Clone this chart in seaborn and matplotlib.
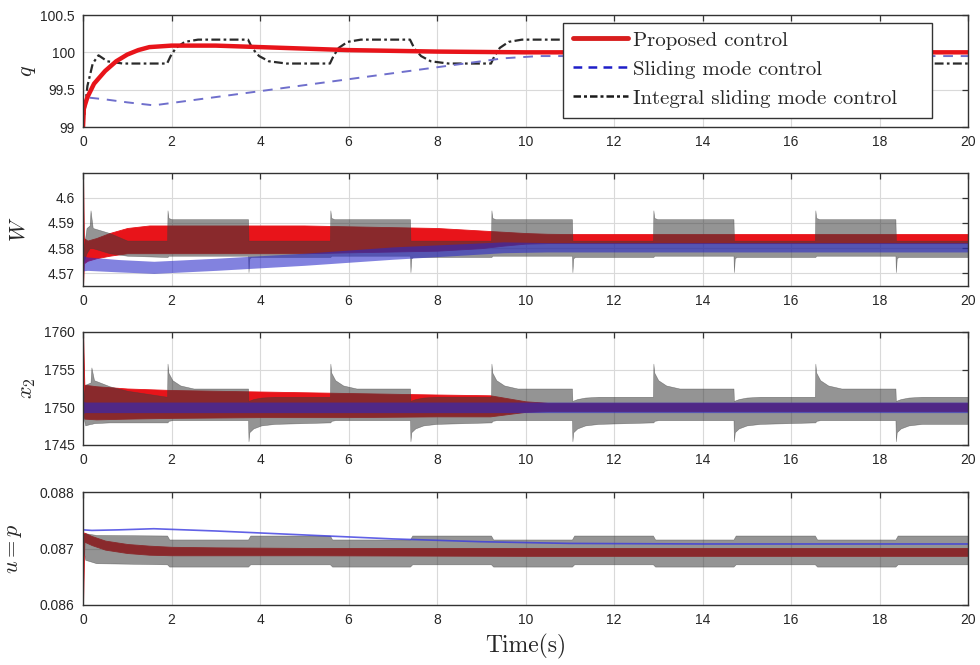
import matplotlib
matplotlib.use("Agg")
import matplotlib.pyplot as plt
from matplotlib.lines import Line2D
from matplotlib.patches import Rectangle
import seaborn as sns

# ---------------- data ----------------
# Panel 1 : q
t_q_prop = [0.00, 0.02, 0.10, 0.25, 0.50, 0.75, 1.00, 1.25, 1.50, 2.00, 3.00, 4.00,
            5.00, 6.00, 7.00, 8.00, 10.00, 20.00]
q_prop = [99.00, 99.25, 99.40, 99.58, 99.75, 99.88, 99.97, 100.03, 100.07, 100.09, 100.09,
          100.07, 100.05, 100.03, 100.02, 100.01, 100.00, 100.00]

t_q_smc = [0.00, 0.03, 0.50, 1.00, 1.60, 4.00, 6.00, 8.00, 9.50, 10.30, 20.00]
q_smc = [99.00, 99.40, 99.37, 99.33, 99.29, 99.48, 99.64, 99.80, 99.92, 99.95, 99.95]

t_q_ismc = [0.00, 0.10, 0.22, 0.35, 0.55, 0.90,
            1.90, 1.98, 2.10, 2.30, 2.60, 3.73, 3.83, 3.98, 4.20, 4.60,
            5.58, 5.66, 5.78, 5.98, 6.28, 7.39, 7.49, 7.64, 7.86, 8.26,
            9.22, 9.30, 9.42, 9.62, 9.92, 11.05, 11.15, 11.30, 11.52, 11.92,
            12.88, 12.96, 13.08, 13.28, 13.58, 14.70, 14.80, 14.95, 15.17, 15.57,
            16.54, 16.62, 16.74, 16.94, 17.24, 18.36, 18.46, 18.61, 18.83, 19.23, 20.00]
q_ismc = [99.00, 99.55, 99.85, 99.96, 99.88, 99.85,
          99.85, 99.95, 100.06, 100.14, 100.17, 100.17, 100.05, 99.95, 99.88, 99.85,
          99.85, 99.95, 100.06, 100.14, 100.17, 100.17, 100.05, 99.95, 99.88, 99.85,
          99.85, 99.95, 100.06, 100.14, 100.17, 100.17, 100.05, 99.95, 99.88, 99.85,
          99.85, 99.95, 100.06, 100.14, 100.17, 100.17, 100.05, 99.95, 99.88, 99.85,
          99.85, 99.95, 100.06, 100.14, 100.17, 100.17, 100.05, 99.95, 99.88, 99.85, 99.85]

# Panel 2 : W (envelopes of the chattering bands)
t_w_prop = [0.00, 0.02, 0.10, 0.30, 0.60, 1.00, 1.50, 2.00, 5.00, 8.00, 9.00, 9.50,
            10.00, 10.50, 11.00, 20.00]
w_prop_hi = [4.6100, 4.5840, 4.5830, 4.5840, 4.5860, 4.5880, 4.5890, 4.5890, 4.5890, 4.5880,
             4.5870, 4.5865, 4.5860, 4.5857, 4.5856, 4.5856]
w_prop_lo = [4.5650, 4.5740, 4.5750, 4.5760, 4.5770, 4.5780, 4.5780, 4.5780, 4.5780, 4.5790,
             4.5800, 4.5810, 4.5818, 4.5820, 4.5820, 4.5820]

t_w_smc = [0.00, 0.10, 0.80, 1.60, 3.00, 5.00, 7.00, 9.50, 10.50, 20.00]
w_smc_hi = [4.5770, 4.5765, 4.5755, 4.5748, 4.5760, 4.5780, 4.5805, 4.5825, 4.5822, 4.5822]
w_smc_lo = [4.5710, 4.5712, 4.5706, 4.5700, 4.5712, 4.5732, 4.5756, 4.5782, 4.5785, 4.5785]

t_w_ismc = [0.00, 0.08, 0.15, 0.17, 0.22, 0.60, 1.00,
            1.90, 1.91, 1.93, 2.00, 3.73, 3.74, 3.76, 3.80,
            5.58, 5.59, 5.61, 5.68, 7.39, 7.40, 7.42, 7.46,
            9.22, 9.23, 9.25, 9.32, 11.05, 11.06, 11.08, 11.12,
            12.88, 12.89, 12.91, 12.98, 14.70, 14.71, 14.73, 14.77,
            16.54, 16.55, 16.57, 16.64, 18.36, 18.37, 18.39, 18.43, 20.00]
w_ismc_hi = [4.5780, 4.5880, 4.5890, 4.5950, 4.5880, 4.5860, 4.5830,
             4.5830, 4.5950, 4.5920, 4.5915, 4.5915, 4.5830, 4.5830, 4.5830,
             4.5830, 4.5950, 4.5920, 4.5915, 4.5915, 4.5830, 4.5830, 4.5830,
             4.5830, 4.5950, 4.5920, 4.5915, 4.5915, 4.5830, 4.5830, 4.5830,
             4.5830, 4.5950, 4.5920, 4.5915, 4.5915, 4.5830, 4.5830, 4.5830,
             4.5830, 4.5950, 4.5920, 4.5915, 4.5915, 4.5830, 4.5830, 4.5830, 4.5830]
w_ismc_lo = [4.5740, 4.5780, 4.5800, 4.5800, 4.5800, 4.5780, 4.5770,
             4.5765, 4.5765, 4.5770, 4.5770, 4.5770, 4.5705, 4.5760, 4.5765,
             4.5765, 4.5765, 4.5770, 4.5770, 4.5770, 4.5705, 4.5760, 4.5765,
             4.5765, 4.5765, 4.5770, 4.5770, 4.5770, 4.5705, 4.5760, 4.5765,
             4.5765, 4.5765, 4.5770, 4.5770, 4.5770, 4.5705, 4.5760, 4.5765,
             4.5765, 4.5765, 4.5770, 4.5770, 4.5770, 4.5705, 4.5760, 4.5765, 4.5765]

# Panel 3 : x2
t_x_prop = [0.00, 0.03, 0.30, 1.00, 2.00, 4.00, 6.00, 8.00, 9.20, 9.60, 10.00, 10.50, 20.00]
x_prop_hi = [1760.0, 1753.0, 1752.8, 1752.5, 1752.3, 1752.1, 1751.9, 1751.7, 1751.6, 1751.2,
             1750.8, 1750.6, 1750.6]
x_prop_lo = [1750.0, 1748.5, 1748.4, 1748.5, 1748.6, 1748.7, 1748.7, 1748.8, 1748.8, 1749.1,
             1749.4, 1749.5, 1749.5]

t_x_smc = [0.00, 0.05, 20.00]
x_smc_hi = [1750.8, 1750.7, 1750.7]
x_smc_lo = [1749.2, 1749.3, 1749.3]

t_x_ismc = [0.00, 0.05, 0.17, 0.19, 0.25, 0.60, 1.00,
            1.90, 1.91, 1.93, 2.02, 2.20, 2.50, 3.73, 3.74, 3.76, 3.85, 4.03, 4.33,
            5.58, 5.59, 5.61, 5.70, 5.88, 6.18, 7.39, 7.40, 7.42, 7.51, 7.69, 7.99,
            9.22, 9.23, 9.25, 9.34, 9.52, 9.82, 11.05, 11.06, 11.08, 11.17, 11.35, 11.65,
            12.88, 12.89, 12.91, 13.00, 13.18, 13.48, 14.70, 14.71, 14.73, 14.82, 15.00, 15.30,
            16.54, 16.55, 16.57, 16.66, 16.84, 17.14, 18.36, 18.37, 18.39, 18.48, 18.66, 18.96,
            20.00]
x_ismc_hi = [1751.0, 1753.0, 1753.3, 1755.3, 1753.6, 1752.8, 1752.2,
             1751.4, 1755.8, 1754.6, 1753.6, 1752.9, 1752.5, 1752.5, 1750.8, 1750.9, 1751.1, 1751.3, 1751.4,
             1751.4, 1755.8, 1754.6, 1753.6, 1752.9, 1752.5, 1752.5, 1750.8, 1750.9, 1751.1, 1751.3, 1751.4,
             1751.4, 1755.8, 1754.6, 1753.6, 1752.9, 1752.5, 1752.5, 1750.8, 1750.9, 1751.1, 1751.3, 1751.4,
             1751.4, 1755.8, 1754.6, 1753.6, 1752.9, 1752.5, 1752.5, 1750.8, 1750.9, 1751.1, 1751.3, 1751.4,
             1751.4, 1755.8, 1754.6, 1753.6, 1752.9, 1752.5, 1752.5, 1750.8, 1750.9, 1751.1, 1751.3, 1751.4,
             1751.4]
x_ismc_lo = [1749.0, 1747.6, 1747.8, 1747.8, 1747.9, 1748.0, 1748.0,
             1748.0, 1748.0, 1748.2, 1748.3, 1748.3, 1748.3, 1748.3, 1745.5, 1746.7, 1747.2, 1747.6, 1747.8,
             1748.0, 1748.0, 1748.2, 1748.3, 1748.3, 1748.3, 1748.3, 1745.5, 1746.7, 1747.2, 1747.6, 1747.8,
             1748.0, 1748.0, 1748.2, 1748.3, 1748.3, 1748.3, 1748.3, 1745.5, 1746.7, 1747.2, 1747.6, 1747.8,
             1748.0, 1748.0, 1748.2, 1748.3, 1748.3, 1748.3, 1748.3, 1745.5, 1746.7, 1747.2, 1747.6, 1747.8,
             1748.0, 1748.0, 1748.2, 1748.3, 1748.3, 1748.3, 1748.3, 1745.5, 1746.7, 1747.2, 1747.6, 1747.8,
             1747.8]

# Panel 4 : u = p
t_u_prop = [0.00, 0.03, 0.20, 0.50, 1.00, 1.50, 2.00, 3.00, 5.00, 10.00, 20.00]
u_prop_hi = [0.08728, 0.08728, 0.08722, 0.08714, 0.08708, 0.08705, 0.08703, 0.08702, 0.08701,
             0.08701, 0.08701]
u_prop_lo = [0.08600, 0.08712, 0.08706, 0.08698, 0.08692, 0.08689, 0.08688, 0.08688, 0.08688,
             0.08687, 0.08687]

t_u_smc = [0.00, 0.20, 0.80, 1.60, 3.00, 5.00, 7.00, 9.00, 11.00, 14.00, 20.00]
u_smc = [0.08733, 0.08732, 0.08733, 0.08735, 0.08731, 0.08724, 0.08717, 0.08712, 0.08709,
         0.08708, 0.08708]

t_u_ismc = [0.00, 0.05, 0.30,
            1.90, 1.95, 3.73, 3.78, 5.58, 5.63, 7.39, 7.44, 9.22, 9.27, 11.05, 11.10,
            12.88, 12.93, 14.70, 14.75, 16.54, 16.59, 18.36, 18.41, 20.00]
u_ismc_hi = [0.08725, 0.08727, 0.08724,
             0.08723, 0.08716, 0.08716, 0.08723, 0.08723, 0.08716, 0.08716, 0.08723,
             0.08723, 0.08716, 0.08716, 0.08723, 0.08723, 0.08716, 0.08716, 0.08723,
             0.08723, 0.08716, 0.08716, 0.08723, 0.08723]
u_ismc_lo = [0.08700, 0.08680, 0.08674,
             0.08672, 0.08668, 0.08668, 0.08672, 0.08672, 0.08668, 0.08668, 0.08672,
             0.08672, 0.08668, 0.08668, 0.08672, 0.08672, 0.08668, 0.08668, 0.08672,
             0.08672, 0.08668, 0.08668, 0.08672, 0.08672]

legend_labels = ["Proposed control", "Sliding mode control", "Integral sliding mode control"]
x_ticks = [0, 2, 4, 6, 8, 10, 12, 14, 16, 18, 20]

# ---------------- style ----------------
sns.set_style("white")
plt.rcParams['font.family'] = ['Liberation Sans', 'DejaVu Sans']
plt.rcParams['mathtext.fontset'] = 'cm'
plt.rcParams['axes.unicode_minus'] = False

RED = '#e8141a'
GREY = '#3c3c3c'
BLUE = '#2828c8'

fig = plt.figure(figsize=(9.8, 6.65), dpi=100)
W, H = 980.0, 665.0
boxes = [(15, 127), (172.5, 286), (332, 445), (492, 605)]
axes = []
for top, bot in boxes:
    ax = fig.add_axes([83 / W, 1 - bot / H, 885 / W, (bot - top) / H])
    axes.append(ax)

ylims = [(99, 100.5), (4.565, 4.61), (1745, 1760), (0.086, 0.088)]
yticks = [[99, 99.5, 100, 100.5], [4.57, 4.58, 4.59, 4.60], [1745, 1750, 1755, 1760],
          [0.086, 0.087, 0.088]]
yticklabels = [["99", "99.5", "100", "100.5"], ["4.57", "4.58", "4.59", "4.6"],
               ["1745", "1750", "1755", "1760"], ["0.086", "0.087", "0.088"]]
ylabels = [r"$q$", r"$W$", r"$x_2$", r"$u=p$"]
ylabel_px = [27, 19, 27, 14]

for ax, yl, yt, ytl, lab, lpx in zip(axes, ylims, yticks, yticklabels, ylabels, ylabel_px):
    ax.set_xlim(0, 20)
    ax.set_ylim(*yl)
    ax.set_xticks(x_ticks)
    ax.set_xticklabels([str(v) for v in x_ticks])
    ax.set_yticks(yt)
    ax.set_yticklabels(ytl)
    ax.grid(True, color='#d9d9d9', lw=0.8, zorder=0)
    ax.set_axisbelow(True)
    ax.tick_params(direction='in', top=True, right=True, length=4, width=0.9,
                   labelsize=10, labelcolor='#262626', pad=6, color='#333333')
    for s in ax.spines.values():
        s.set_color('#333333')
        s.set_linewidth(1.0)
        s.set_zorder(10)
    ax.set_ylabel(lab, fontsize=16, color='#262626')
    ax.yaxis.label.set_va('center')
    ax.yaxis.set_label_coords((lpx - 83) / 885, 0.5)

# Panel 1 lines
ax1 = axes[0]
sns.lineplot(x=t_q_ismc, y=q_ismc, ax=ax1, color='#2a2a2a', lw=1.6, sort=False,
             estimator=None, linestyle=(0, (4, 1.5, 1.2, 1.5)), zorder=3)
sns.lineplot(x=t_q_smc, y=q_smc, ax=ax1, color='#6f6fcc', lw=1.4, sort=False,
             estimator=None, linestyle=(0, (5, 4)), zorder=3)
sns.lineplot(x=t_q_prop, y=q_prop, ax=ax1, color=RED, lw=3.2, sort=False,
             estimator=None, zorder=4)

# Panel 2-4 bands
band_sets = [
    (axes[1], (t_w_prop, w_prop_lo, w_prop_hi), (t_w_ismc, w_ismc_lo, w_ismc_hi),
     (t_w_smc, w_smc_lo, w_smc_hi)),
    (axes[2], (t_x_prop, x_prop_lo, x_prop_hi), (t_x_ismc, x_ismc_lo, x_ismc_hi),
     (t_x_smc, x_smc_lo, x_smc_hi)),
    (axes[3], (t_u_prop, u_prop_lo, u_prop_hi), (t_u_ismc, u_ismc_lo, u_ismc_hi), None),
]
for ax, prop, ismc, smc in band_sets:
    ax.fill_between(prop[0], prop[1], prop[2], color=RED, lw=0.6, edgecolor=RED, zorder=2)
    ax.fill_between(ismc[0], ismc[1], ismc[2], color=GREY, alpha=0.55, lw=0.4,
                    edgecolor=GREY, zorder=3)
    if smc is not None:
        ax.fill_between(smc[0], smc[1], smc[2], color=BLUE, alpha=0.58, lw=0, zorder=4)

sns.lineplot(x=t_u_smc, y=u_smc, ax=axes[3], color='#3a3ae0', lw=1.2, alpha=0.8,
             sort=False, estimator=None, zorder=5)

# Legend (box drawn to the reference's size)
ax1.add_patch(Rectangle(((563 - 83) / 885, (127 - 118) / 112), (932 - 563) / 885, 95 / 112,
                        transform=ax1.transAxes, facecolor='white', edgecolor='#333333',
                        lw=1.0, zorder=15))
handles = [Line2D([], [], color='#d81e1e', lw=3.5),
           Line2D([], [], color='#1f1fc8', lw=1.8, linestyle=(0, (3.5, 2.5))),
           Line2D([], [], color='#1a1a1a', lw=1.8, linestyle=(0, (3, 1.2, 1.2, 1.2)))]
leg = ax1.legend(handles, legend_labels, loc='upper left',
                 bbox_to_anchor=((573 - 83) / 885, (127 - 31) / 112),
                 borderaxespad=0, prop={'family': 'cmr10', 'size': 15}, frameon=False,
                 handlelength=2.65, handletextpad=0.25, labelspacing=0.5, borderpad=0)
leg.set_zorder(20)

axes[3].set_xlabel("Time(s)", fontfamily='cmr10', fontsize=17, color='#262626', labelpad=5)

fig.savefig("out.png", dpi=100)
